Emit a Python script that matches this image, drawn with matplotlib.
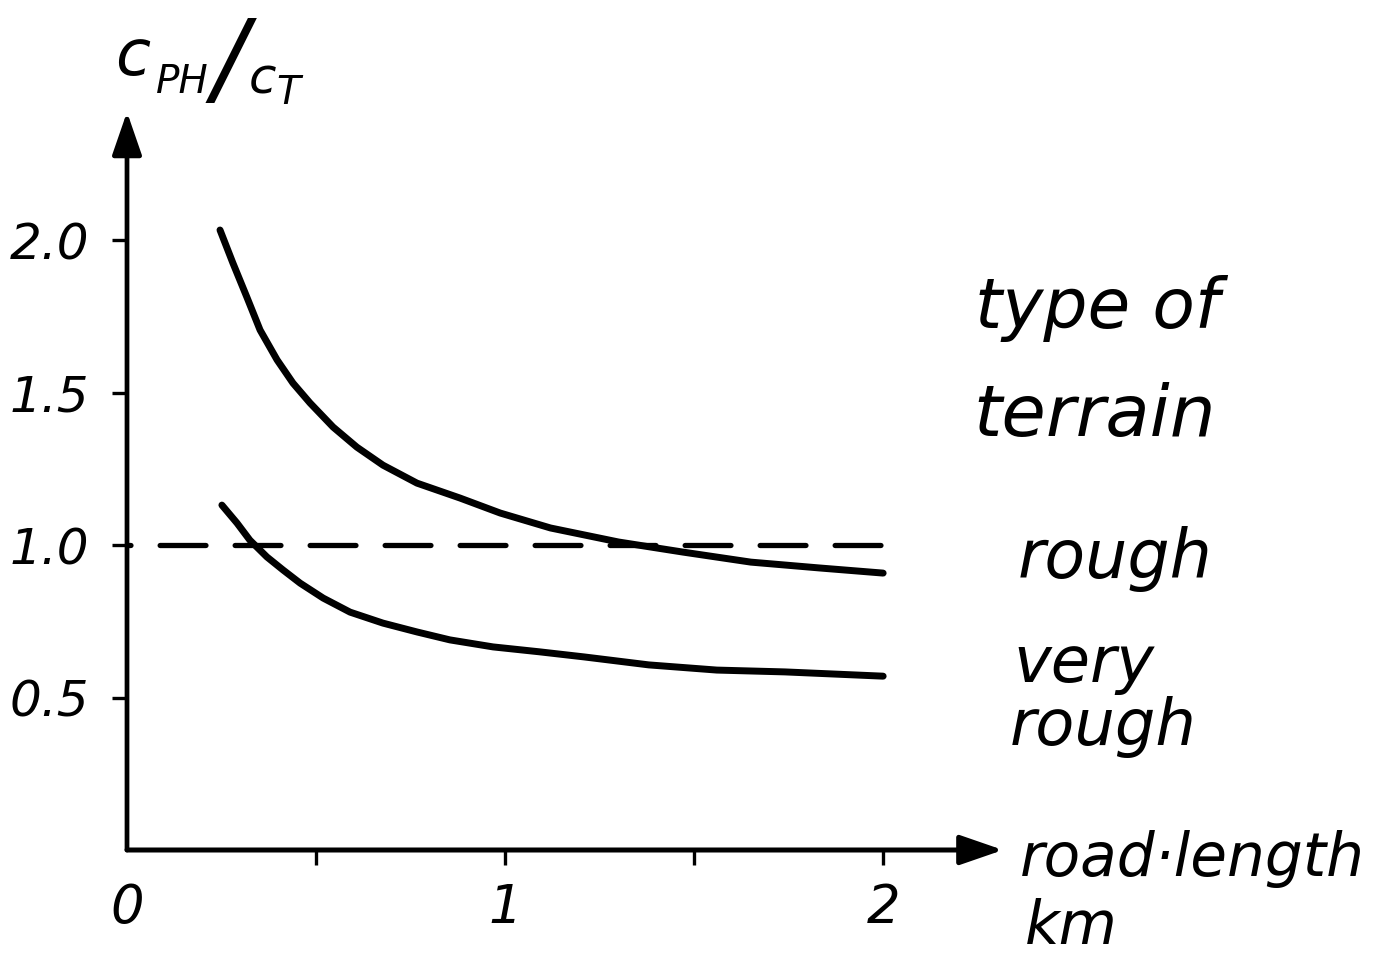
import matplotlib
matplotlib.use("Agg")
import matplotlib.pyplot as plt
from matplotlib.patches import ArrowStyle

plt.rcParams["lines.scale_dashes"] = False
plt.rcParams["font.family"] = ["DejaVu Sans"]

# Road length (km) versus cost ratio c_PH / c_T for two terrain types
road_km_rough = [0.246, 0.28, 0.317, 0.352, 0.397, 0.439, 0.484, 0.545,
                 0.608, 0.677, 0.767, 0.881, 0.987, 1.12, 1.30, 1.47,
                 1.65, 1.83, 2.00]
ratio_rough = [2.033, 1.925, 1.813, 1.705, 1.607, 1.531, 1.466, 1.387,
               1.321, 1.262, 1.203, 1.154, 1.105, 1.056, 1.01, 0.977,
               0.944, 0.925, 0.908]

road_km_very_rough = [0.251, 0.291, 0.325, 0.37, 0.413, 0.458, 0.519,
                      0.59, 0.677, 0.767, 0.854, 0.968, 1.09, 1.21, 1.38,
                      1.56, 1.74, 2.00]
ratio_very_rough = [1.131, 1.072, 1.016, 0.961, 0.918, 0.875, 0.826,
                    0.78, 0.744, 0.715, 0.689, 0.666, 0.65, 0.633, 0.607,
                    0.59, 0.584, 0.57]

reference_km = [0.0, 2.0]
reference_ratio = [1.0, 1.0]

x_ticks_major = [0, 1, 2]
x_labels_major = ["0", "1", "2"]
x_ticks_minor = [0.5, 1.5]
y_ticks = [0.5, 1.0, 1.5, 2.0]
y_labels = ["0.5", "1.0", "1.5", "2.0"]

terrain_labels = ["rough", "very\nrough"]

W, H = 1377, 961
fig = plt.figure(figsize=(W / 100, H / 100), dpi=100)
fig.patch.set_facecolor("white")

# axis extents (arrow tips)
X_END, Y_END = 2.317, 2.42
ax = fig.add_axes([127 / W, (H - 850) / H, 876 / W, 738 / H])
ax.set_xlim(0, X_END)
ax.set_ylim(0, Y_END)
ax.set_facecolor("none")
for s in ax.spines.values():
    s.set_visible(False)


def px(x, y):
    return x / W, 1 - y / H


INK = "black"
hand = dict(color=INK, style="italic", family="DejaVu Sans")

# axes drawn as arrows
head = ArrowStyle("-|>", head_length=1.1, head_width=0.38)
ax.annotate("", xy=(X_END, 0), xytext=(0, 0),
            arrowprops=dict(arrowstyle=head, lw=3.6, color=INK,
                            mutation_scale=24, shrinkA=0, shrinkB=0),
            annotation_clip=False)
ax.annotate("", xy=(0, Y_END), xytext=(0, 0),
            arrowprops=dict(arrowstyle=head, lw=3.4, color=INK,
                            mutation_scale=24, shrinkA=0, shrinkB=0),
            annotation_clip=False)

# curves
ax.plot(road_km_rough, ratio_rough, color=INK, lw=5.0,
        solid_capstyle="round", solid_joinstyle="round", clip_on=False)
ax.plot(road_km_very_rough, ratio_very_rough, color=INK, lw=5.0,
        solid_capstyle="round", solid_joinstyle="round", clip_on=False)
ax.plot(reference_km, reference_ratio, color=INK, lw=3.8,
        linestyle=(30.5, (33, 21)), dash_capstyle="round", clip_on=False)

# ticks
ax.set_xticks(x_ticks_major)
ax.set_xticklabels(x_labels_major, fontsize=38, **hand)
ax.set_xticks(x_ticks_minor, minor=True)
ax.set_yticks(y_ticks)
ax.set_yticklabels(y_labels, fontsize=36, **hand)
ax.tick_params(axis="both", which="both", direction="out", length=11,
               width=2.4, color=INK)
ax.tick_params(axis="x", which="major", pad=12)
ax.tick_params(axis="y", which="major", pad=16)
ax.xaxis.get_major_ticks()[0].tick1line.set_visible(False)

# y-axis title c_PH / c_T
fig.text(*px(133, 57), "c", fontsize=46, ha="center", va="center", **hand)
fig.text(*px(182, 82), "PH", fontsize=28, ha="center", va="center", **hand)
fig.text(*px(230, 64), "/", fontsize=74, ha="center", va="center", **hand)
fig.text(*px(262, 80), "c", fontsize=36, ha="center", va="center", **hand)
fig.text(*px(288, 93), "T", fontsize=28, ha="center", va="center", **hand)

# x-axis title
fig.text(*px(1020, 876), "road\u00b7length", fontsize=43, ha="left",
         va="baseline", **hand)
fig.text(*px(1025, 944), "km", fontsize=43, ha="left", va="baseline", **hand)

# terrain legend
fig.text(*px(975, 328), "type of", fontsize=50, ha="left", va="baseline", **hand)
fig.text(*px(973, 436), "terrain", fontsize=52, ha="left", va="baseline", **hand)
fig.text(*px(1018, 578), terrain_labels[0], fontsize=48, ha="left",
         va="baseline", **hand)
fig.text(*px(1013, 682), terrain_labels[1].split("\n")[0], fontsize=46,
         ha="left", va="baseline", **hand)
fig.text(*px(1010, 745), terrain_labels[1].split("\n")[1], fontsize=46,
         ha="left", va="baseline", **hand)

fig.savefig("out.png", dpi=100, facecolor="white")
